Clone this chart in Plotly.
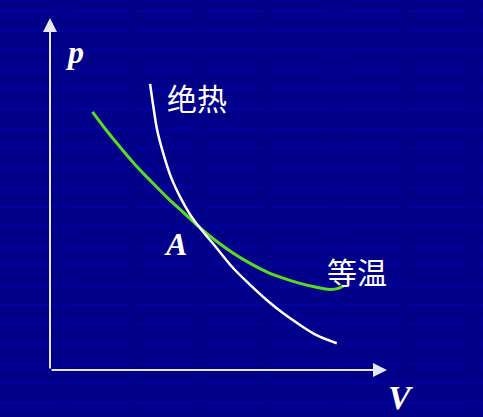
import plotly.graph_objects as go

# Adiabatic curve (绝热) – V, p values (arbitrary units)
adiabatic_V = [2.97, 3.06, 3.18, 3.35, 3.59, 3.86, 4.15, 4.44, 4.95, 5.44, 5.94, 6.43, 6.92, 7.42, 7.91, 8.51]
adiabatic_p = [8.13, 7.53, 6.82, 6.19, 5.48, 4.92, 4.43, 4.05, 3.46, 2.89, 2.42, 1.99, 1.61, 1.28, 0.99, 0.76]

# Isothermal curve (等温)
isothermal_V = [1.26, 1.63, 2.03, 2.52, 3.02, 3.51, 4.01, 4.44, 4.95, 5.44, 5.94, 6.43, 6.92, 7.42, 7.91, 8.31, 8.56, 8.70]
isothermal_p = [7.33, 6.86, 6.39, 5.84, 5.34, 4.87, 4.43, 4.05, 3.65, 3.32, 3.03, 2.79, 2.61, 2.46, 2.35, 2.29, 2.32, 2.39]

# Intersection point A
point_A = (4.44, 4.05)

axis_max = 10

BG = "#000088"
STRIPE = "#0000A4"
AXIS = "#E6E6F0"

fig = go.Figure()

# faint decorative background stripes
for i in range(21):
    yp = 1 - (11 + i * 19.6) / 417
    fig.add_shape(type="line", xref="paper", yref="paper", x0=0, x1=1, y0=yp, y1=yp,
                  line=dict(color=STRIPE, width=2, dash="60px,8px"), layer="below")

fig.add_trace(go.Scatter(x=isothermal_V, y=isothermal_p, mode="lines",
                         line=dict(color="#55DD22", width=3, shape="spline", smoothing=1),
                         hoverinfo="skip"))
fig.add_trace(go.Scatter(x=adiabatic_V, y=adiabatic_p, mode="lines",
                         line=dict(color="#FFFFFF", width=2.5, shape="spline", smoothing=1),
                         hoverinfo="skip"))

# Axes with arrows
fig.add_annotation(x=0, y=axis_max, ax=0, ay=0, xref="x", yref="y", axref="x", ayref="y",
                   text="", showarrow=True, arrowhead=2, arrowsize=1.4, arrowwidth=2,
                   arrowcolor=AXIS)
fig.add_annotation(x=axis_max, y=0, ax=0, ay=0, xref="x", yref="y", axref="x", ayref="y",
                   text="", showarrow=True, arrowhead=2, arrowsize=1.4, arrowwidth=2,
                   arrowcolor=AXIS)

serif = "Liberation Serif"
cjk = "Noto Sans CJK SC"

fig.add_annotation(x=0.74, y=9.03, xref="x", yref="y", text="<b><i>p</i></b>", showarrow=False,
                   font=dict(family=serif, size=32, color="white"))
fig.add_annotation(x=10.39, y=-0.77, xref="x", yref="y", text="<b><i>V</i></b>", showarrow=False,
                   font=dict(family=serif, size=34, color="white"))
fig.add_annotation(x=point_A[0] - 0.73, y=point_A[1] - 0.47, xref="x", yref="y",
                   text="<b><i>A</i></b>", showarrow=False,
                   font=dict(family=serif, size=32, color="white"))
fig.add_annotation(x=4.35, y=7.76, xref="x", yref="y", text="绝热", showarrow=False,
                   font=dict(family=cjk, size=30, color="white"))
fig.add_annotation(x=9.1, y=2.8, xref="x", yref="y", text="等温", showarrow=False,
                   font=dict(family=cjk, size=30, color="white"))

# pixel mapping: V=0 at x=50px, 33.7 px/unit; p=0 at y=370px, 35.2 px/unit
fig.update_xaxes(range=[-50 / 33.7, (483 - 50) / 33.7], visible=False, fixedrange=True)
fig.update_yaxes(range=[-(417 - 370) / 35.2, 370 / 35.2], visible=False, fixedrange=True)

fig.update_layout(
    width=483, height=417,
    margin=dict(l=0, r=0, t=0, b=0),
    paper_bgcolor=BG, plot_bgcolor=BG,
    showlegend=False,
)

fig.write_html("out.html", config={"displayModeBar": False},
               post_script="document.body.style.margin='0';document.body.style.background='#000088';")
